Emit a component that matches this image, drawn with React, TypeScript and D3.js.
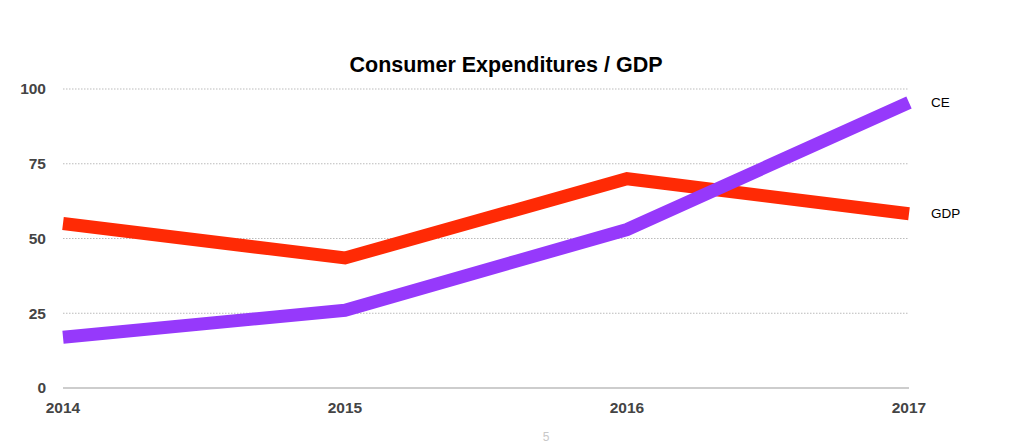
import React from "react";
import * as d3 from "d3";

const years = [2014, 2015, 2016, 2017];
const gdpValues = [55, 43.5, 70, 58.3];
const ceValues = [17, 26, 53, 95.5];
const yTicks = [0, 25, 50, 75, 100];
const seriesNames = ["GDP", "CE"];

const W = 1024;
const H = 448;

export default function App() {
  const x = d3.scaleLinear().domain([2014, 2017]).range([63, 909]);
  const y = d3.scaleLinear().domain([0, 100]).range([388, 89]);
  const line = d3
    .line<number>()
    .x((_, i) => x(years[i]))
    .y((d) => y(d));

  const series = [
    { name: seriesNames[0], values: gdpValues, color: "#ff2a05" },
    { name: seriesNames[1], values: ceValues, color: "#9639fb" },
  ];

  return (
    <svg
      width={W}
      height={H}
      style={{ position: "absolute", left: 0, top: 0, background: "#fff" }}
      fontFamily="'Liberation Sans', Arial, sans-serif"
    >
      <rect width={W} height={H} fill="#fff" />
      <text x={506} y={72} textAnchor="middle" fontSize={21.5} fontWeight="bold" fill="#000">
        Consumer Expenditures / GDP
      </text>
      {yTicks.map((t) =>
        t === 0 ? null : (
          <line
            key={"g" + t}
            x1={x(2014)}
            x2={x(2017)}
            y1={y(t)}
            y2={y(t)}
            stroke="#bbb"
            strokeWidth={1}
            strokeDasharray="1.5,1.5"
          />
        )
      )}
      <line x1={x(2014)} x2={x(2017)} y1={y(0)} y2={y(0)} stroke="#bdbdbd" strokeWidth={1.5} />
      {yTicks.map((t) => (
        <text
          key={"yt" + t}
          x={46}
          y={y(t)}
          dy="0.35em"
          textAnchor="end"
          fontSize={15.5}
          fontWeight="bold"
          fill="#444"
        >
          {t}
        </text>
      ))}
      {years.map((yr) => (
        <text
          key={"xt" + yr}
          x={x(yr)}
          y={413}
          textAnchor="middle"
          fontSize={15.5}
          fontWeight="bold"
          fill="#444"
        >
          {yr}
        </text>
      ))}
      {series.map((s) => (
        <path
          key={s.name}
          d={line(s.values) || ""}
          fill="none"
          stroke={s.color}
          strokeWidth={13}
          strokeLinejoin="miter"
          strokeLinecap="butt"
        />
      ))}
      {series.map((s) => (
        <text
          key={"lbl" + s.name}
          x={931}
          y={y(s.values[s.values.length - 1])}
          dy="0.35em"
          fontSize={13.5}
          fill="#000"
        >
          {s.name}
        </text>
      ))}
      <text x={546} y={441} textAnchor="middle" fontSize={12} fill="#c8c8c8">
        5
      </text>
    </svg>
  );
}
